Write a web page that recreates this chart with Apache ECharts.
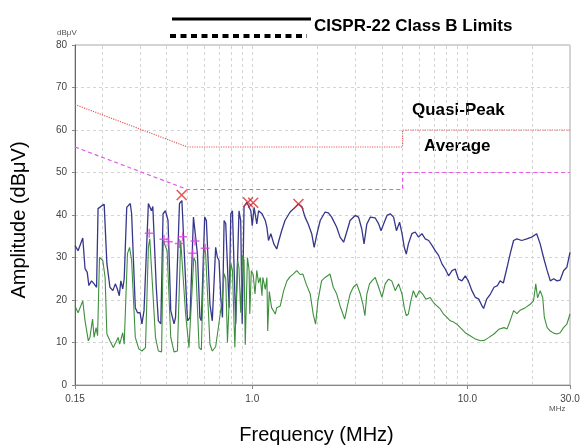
<!DOCTYPE html>
<html>
<head>
<meta charset="utf-8">
<script src="https://cdn.jsdelivr.net/npm/echarts@6/dist/echarts.min.js"></script>
<style>
  html, body { margin: 0; padding: 0; background: #fff; }
  #chart { width: 584px; height: 445px; }
</style>
</head>
<body>
<div id="chart"></div>
<script>
// CISPR-22 class B limits (MHz / dBuV)
const qpLimitFreq = [0.15, 0.5, 5, 5, 30];
const qpLimitLevel = [66, 56, 56, 60, 60];
const avgLimitFreq = [0.15, 0.5, 5, 5, 30];
const avgLimitLevel = [56, 46, 46, 50, 50];

// peak scan (blue)
const peakFreq = [
  0.150, 0.155, 0.163, 0.167, 0.171, 0.174, 0.179, 0.184, 0.189, 0.192,
  0.200, 0.205, 0.211, 0.218, 0.225, 0.231, 0.236, 0.241, 0.245, 0.250,
  0.254, 0.261, 0.271, 0.275, 0.286, 0.293, 0.301, 0.307, 0.314, 0.329,
  0.340, 0.345, 0.358, 0.366, 0.376, 0.385, 0.395, 0.406, 0.418, 0.433,
  0.440, 0.459, 0.471, 0.490, 0.500, 0.514, 0.533, 0.542, 0.556, 0.571,
  0.580, 0.601, 0.612, 0.636, 0.652, 0.676, 0.689, 0.701, 0.714, 0.727,
  0.740, 0.753, 0.781, 0.795, 0.809, 0.838, 0.868, 0.884, 0.898, 0.916,
  0.943, 0.985, 1.00, 1.02, 1.05, 1.07, 1.11, 1.15, 1.17, 1.19,
  1.22, 1.26, 1.30, 1.33, 1.37, 1.42, 1.50, 1.58, 1.64, 1.70,
  1.76, 1.82, 1.89, 1.94, 2.00, 2.07, 2.18, 2.26, 2.34, 2.47,
  2.56, 2.66, 2.76, 2.85, 3.01, 3.12, 3.23, 3.31, 3.41, 3.54,
  3.73, 3.87, 3.97, 4.08, 4.23, 4.38, 4.54, 4.68, 4.84, 4.97,
  5.09, 5.20, 5.32, 5.52, 5.72, 5.93, 6.15, 6.37, 6.61, 6.86,
  7.09, 7.35, 7.62, 7.89, 8.18, 8.49, 8.78, 9.10, 9.43, 9.78,
  10.1, 10.5, 10.9, 11.3, 11.7, 11.9, 12.3, 12.8, 13.3, 13.8,
  14.2, 14.7, 15.3, 15.8, 16.4, 17.0, 17.9, 18.9, 19.9, 21.0,
  21.8, 22.6, 23.5, 24.3, 25.2, 26.1, 27.0, 28.0, 29.0, 30.0
];
const peakLevel = [
  32.8, 31.6, 34.6, 27.4, 26.5, 23.4, 24.5, 23.8, 23.0, 41.5,
  42.2, 42.5, 28.6, 23.0, 22.2, 23.8, 22.6, 21.0, 24.5, 22.6,
  25.0, 41.8, 42.7, 40.3, 18.2, 17.0, 17.0, 14.4, 17.5, 42.7,
  41.0, 42.0, 23.0, 15.1, 14.4, 40.3, 41.0, 38.7, 17.5, 14.4,
  15.9, 42.7, 43.4, 24.5, 15.1, 15.9, 39.5, 39.5, 30.9, 15.9,
  15.1, 39.5, 38.7, 19.0, 15.1, 32.4, 30.0, 29.3, 20.6, 15.9,
  38.7, 38.0, 18.2, 40.3, 41.0, 14.4, 41.0, 38.7, 14.4, 42.0,
  43.0, 41.0, 37.5, 41.8, 37.9, 41.0, 40.3, 38.7, 37.1, 34.0,
  35.6, 33.2, 32.0, 34.0, 36.3, 38.7, 40.7, 41.8, 42.6, 42.0,
  39.5, 37.9, 35.6, 32.4, 35.6, 38.7, 40.7, 40.5, 39.5, 37.1,
  34.8, 33.6, 36.3, 38.7, 39.9, 39.5, 36.7, 33.2, 37.9, 39.5,
  39.3, 37.9, 36.3, 37.9, 39.9, 40.3, 39.5, 36.3, 38.3, 35.6,
  32.4, 30.8, 33.2, 35.6, 36.0, 34.8, 35.6, 34.4, 34.0, 32.8,
  31.6, 30.5, 28.5, 27.3, 25.7, 26.9, 27.3, 24.9, 24.5, 25.7,
  24.5, 22.2, 20.6, 20.2, 18.6, 18.0, 20.2, 21.4, 23.0, 23.4,
  24.5, 24.0, 27.7, 30.8, 34.0, 34.4, 34.0, 34.4, 34.8, 35.6,
  33.2, 30.0, 26.9, 24.5, 25.0, 24.5, 24.7, 26.9, 27.7, 31.2
];

// average scan (green)
const avgFreq = [
  0.150, 0.155, 0.163, 0.167, 0.173, 0.176, 0.181, 0.184, 0.188, 0.191,
  0.195, 0.202, 0.207, 0.211, 0.218, 0.226, 0.232, 0.238, 0.242, 0.250,
  0.254, 0.263, 0.269, 0.275, 0.286, 0.297, 0.307, 0.319, 0.329, 0.334,
  0.355, 0.366, 0.379, 0.386, 0.402, 0.418, 0.433, 0.449, 0.465, 0.490,
  0.508, 0.535, 0.545, 0.566, 0.580, 0.597, 0.607, 0.636, 0.652, 0.676,
  0.698, 0.727, 0.740, 0.753, 0.767, 0.795, 0.809, 0.830, 0.855, 0.868,
  0.884, 0.900, 0.916, 0.928, 0.950, 0.967, 0.974, 0.990, 1.01, 1.03,
  1.05, 1.07, 1.09, 1.11, 1.12, 1.15, 1.17, 1.18, 1.20, 1.23,
  1.28, 1.30, 1.35, 1.40, 1.45, 1.50, 1.55, 1.61, 1.67, 1.72,
  1.78, 1.86, 1.92, 1.97, 2.02, 2.10, 2.18, 2.30, 2.38, 2.47,
  2.56, 2.69, 2.77, 2.85, 2.95, 3.06, 3.18, 3.27, 3.34, 3.41,
  3.51, 3.60, 3.73, 3.87, 4.01, 4.15, 4.30, 4.45, 4.62, 4.79,
  4.97, 5.09, 5.20, 5.32, 5.46, 5.61, 5.78, 5.98, 6.20, 6.41,
  6.72, 6.96, 7.22, 7.48, 7.75, 8.04, 8.33, 8.63, 8.94, 9.27,
  9.78, 10.3, 10.9, 11.5, 12.0, 12.6, 13.3, 14.0, 14.8, 15.3,
  15.8, 16.4, 17.0, 17.6, 18.6, 19.6, 20.3, 20.8, 21.2, 21.8,
  22.4, 22.8, 23.5, 24.3, 25.2, 26.1, 27.0, 28.0, 29.0, 30.0
];
const avgLevel = [
  18.6, 17.0, 19.8, 15.1, 10.4, 11.2, 15.5, 11.2, 13.5, 11.6,
  30.0, 29.3, 25.3, 12.0, 10.4, 8.8, 10.0, 11.2, 9.6, 12.3,
  9.6, 30.9, 32.4, 29.3, 11.2, 8.5, 8.0, 8.8, 32.4, 34.4,
  11.2, 8.0, 7.8, 34.0, 31.6, 11.2, 7.8, 8.0, 34.0, 16.7,
  8.8, 30.0, 29.0, 8.8, 8.3, 32.4, 31.0, 9.6, 8.0, 9.0,
  14.0, 20.6, 26.2, 25.0, 10.0, 28.6, 27.0, 8.8, 29.3, 27.5,
  17.0, 30.5, 29.4, 9.5, 30.0, 27.0, 16.7, 26.9, 26.0, 21.4,
  27.0, 24.0, 25.3, 21.0, 25.3, 22.5, 25.3, 12.7, 22.0, 18.2,
  16.7, 18.2, 18.6, 22.2, 24.5, 25.5, 26.1, 26.9, 26.0, 26.1,
  23.8, 21.4, 16.7, 14.3, 19.8, 24.5, 25.3, 26.1, 23.0, 21.4,
  18.6, 15.5, 18.6, 21.4, 23.0, 23.8, 21.4, 19.0, 16.3, 21.4,
  23.8, 24.5, 25.3, 23.0, 20.6, 23.8, 24.9, 24.5, 22.2, 23.8,
  21.4, 18.2, 16.3, 16.7, 19.8, 22.2, 20.6, 22.2, 21.4, 20.2,
  20.6, 19.4, 18.6, 17.9, 16.7, 15.9, 15.1, 14.8, 14.3, 13.5,
  12.3, 11.6, 10.8, 10.4, 10.5, 11.2, 12.0, 13.1, 13.5, 13.2,
  15.1, 17.5, 16.8, 17.6, 18.2, 19.0, 19.8, 23.8, 20.5, 22.2,
  20.6, 15.9, 13.5, 12.7, 12.2, 12.0, 12.3, 13.5, 14.3, 16.7
];

// marked points
const peakMarkFreq = [0.47, 0.955, 1.01, 1.64];
const peakMarkLevel = [44.7, 43.0, 42.9, 42.6];
const avgMarkFreq = [0.332, 0.389, 0.407, 0.458, 0.475, 0.529, 0.542, 0.604];
const avgMarkLevel = [35.7, 34.3, 33.7, 33.3, 34.9, 31.0, 33.9, 32.2];

// vertical grid positions (log decades)
const gridFreq = [0.2, 0.3, 0.4, 0.5, 0.6, 0.7, 0.8, 0.9, 1, 2, 3, 4, 5, 6, 7, 8, 9, 10, 20];

const zip = (xs, ys) => xs.map((x, i) => [x, ys[i]]);
const FONT = 'Liberation Sans, Arial, sans-serif';

const chart = echarts.init(document.getElementById('chart'));

const option = {
  animation: false,
  textStyle: { fontFamily: FONT },
  grid: {
    left: 75,
    right: 14,
    top: 45,
    bottom: 60,
    outerBoundsMode: 'none',
    containLabel: false,
    show: true,
    borderColor: '#a8a8a8',
    borderWidth: 1
  },
  xAxis: {
    type: 'log',
    logBase: 10,
    min: 0.15,
    max: 30,
    name: 'Frequency (MHz)',
    nameLocation: 'middle',
    nameGap: 40,
    nameTextStyle: { fontSize: 20, color: '#000', padding: [0, 12, 0, 0] },
    axisLine: { show: true, lineStyle: { color: '#888', width: 1 } },
    axisTick: { show: true, length: 4, lineStyle: { color: '#888' } },
    axisLabel: {
      fontSize: 10,
      color: '#444',
      margin: 9,
      formatter: (value) => {
        const v = +(+value).toPrecision(3);
        return v < 1 ? String(v) : v.toFixed(1);
      }
    },
    splitLine: { show: false }
  },
  yAxis: {
    type: 'value',
    min: 0,
    max: 80,
    interval: 10,
    name: 'Amplitude (dBμV)',
    nameLocation: 'middle',
    nameRotate: 90,
    nameGap: 46,
    nameTextStyle: { fontSize: 20, color: '#000', padding: [0, 10, 0, 0] },
    axisLine: { show: true, lineStyle: { color: '#666', width: 1 } },
    axisTick: { show: true, length: 3, lineStyle: { color: '#888' } },
    axisLabel: { fontSize: 10, color: '#444', margin: 8 },
    splitLine: { show: true, lineStyle: { color: '#d4d4d4', type: [3, 3] } }
  },
  graphic: [
    { type: 'line', shape: { x1: 172, y1: 19, x2: 311, y2: 19 }, style: { stroke: '#000', lineWidth: 3 } },
    { type: 'line', shape: { x1: 170, y1: 36, x2: 307, y2: 36 }, style: { stroke: '#000', lineWidth: 4, lineDash: [6, 4.5] } },
    { type: 'text', left: 314, top: 18, style: { text: 'CISPR-22 Class B Limits', font: 'bold 17px ' + FONT, fill: '#000' } },
    { type: 'text', left: 412, top: 102, style: { text: 'Quasi-Peak', font: 'bold 17px ' + FONT, fill: '#000' } },
    { type: 'text', left: 424, top: 138, style: { text: 'Average', font: 'bold 17px ' + FONT, fill: '#000' } },
    { type: 'text', left: 57, top: 29, style: { text: 'dBμV', font: '8px ' + FONT, fill: '#555' } },
    { type: 'text', left: 549, top: 405, style: { text: 'MHz', font: '8px ' + FONT, fill: '#555' } }
  ],
  series: [
    {
      name: 'grid',
      type: 'line',
      data: [],
      silent: true,
      z: 1,
      markLine: {
        silent: true,
        z: 1,
        symbol: 'none',
        label: { show: false },
        lineStyle: { color: '#d4d4d4', type: [3, 3], width: 1 },
        data: gridFreq.map((f) => ({ xAxis: f }))
      }
    },
    {
      name: 'Quasi-Peak limit',
      type: 'line',
      data: zip(qpLimitFreq, qpLimitLevel),
      showSymbol: false,
      lineStyle: { color: '#e85a5a', width: 1.2, type: 'dotted' },
      z: 3
    },
    {
      name: 'Average limit',
      type: 'line',
      data: zip(avgLimitFreq, avgLimitLevel),
      showSymbol: false,
      lineStyle: { color: '#e45ae4', width: 1.2, type: [4, 3] },
      z: 3
    },
    {
      name: 'Peak',
      type: 'line',
      data: zip(peakFreq, peakLevel),
      showSymbol: false,
      lineStyle: { color: '#36368c', width: 1.3 },
      z: 4
    },
    {
      name: 'Average',
      type: 'line',
      data: zip(avgFreq, avgLevel),
      showSymbol: false,
      lineStyle: { color: '#3d8f3d', width: 1.1 },
      z: 5
    },
    {
      name: 'Peak marks',
      type: 'scatter',
      data: zip(peakMarkFreq, peakMarkLevel),
      symbol: 'path://M0,0L10,10M10,0L0,10',
      symbolSize: 10,
      itemStyle: { color: 'none', borderColor: '#e02828', borderWidth: 1.5 },
      z: 6
    },
    {
      name: 'Average marks',
      type: 'scatter',
      data: zip(avgMarkFreq, avgMarkLevel),
      symbol: 'path://M5,0L5,10M0,5L10,5',
      symbolSize: 9,
      itemStyle: { color: 'none', borderColor: '#e040e0', borderWidth: 1.5 },
      z: 6
    }
  ]
};

chart.setOption(option);
</script>
</body>
</html>
